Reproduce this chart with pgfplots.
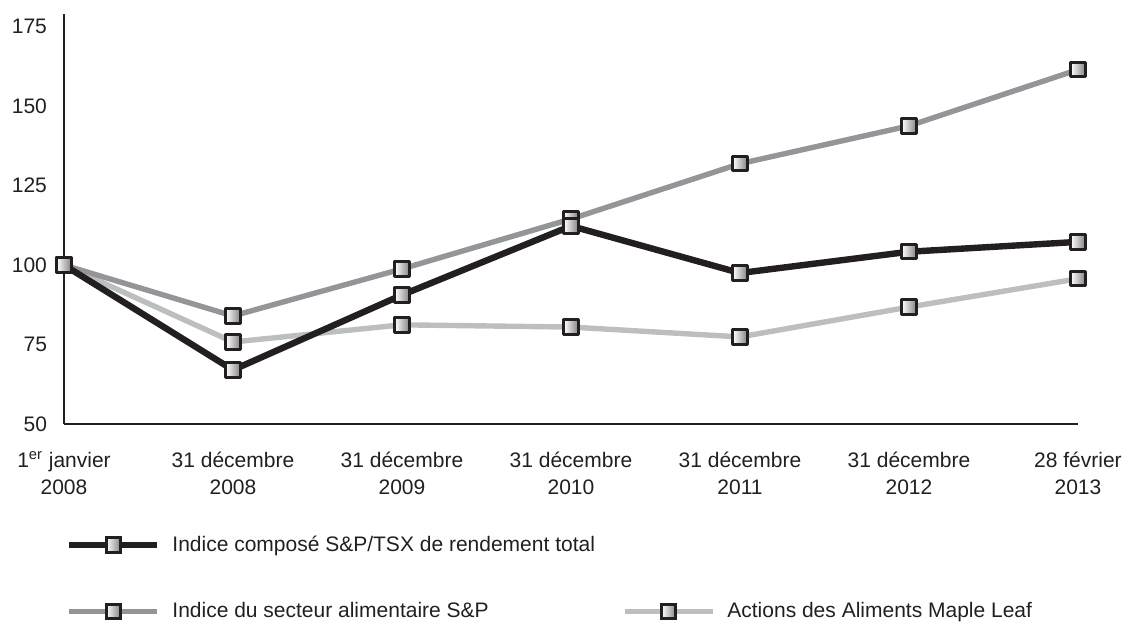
\documentclass[border=0pt]{standalone}
\usepackage{fontspec}
\setmainfont{Liberation Sans}
\usepackage{pgfplots}
\pgfplotsset{compat=1.18}
\definecolor{tsx}{HTML}{231F20}
\definecolor{food}{HTML}{939598}
\definecolor{maple}{HTML}{BCBEC0}
\pgfdeclarehorizontalshading{markshade}{100bp}{color(0bp)=(black!35); color(25bp)=(white); color(100bp)=(black!72)}
\pgfdeclareplotmark{gsq}{%
  \pgfpathrectangle{\pgfqpoint{-\pgfplotmarksize}{-\pgfplotmarksize}}{\pgfqpoint{2\pgfplotmarksize}{2\pgfplotmarksize}}%
  \pgfshadepath{markshade}{0}%
  \pgfusepathqstroke}
\pgfplotsset{
  mymark/.style={mark=gsq, mark size=3.6pt, mark options={solid, draw=tsx, line width=1.5pt}},
}
\begin{document}
\begin{tikzpicture}
\useasboundingbox (0,0) rectangle (562pt,311pt);
\begin{axis}[
  at={(32pt,99pt)}, anchor=south west,
  scale only axis, width=507pt, height=205pt,
  xmin=0, xmax=6, ymin=50, ymax=179,
  axis x line*=bottom, axis y line*=left,
  axis line style={line width=0.8pt, draw=tsx},
  major tick length=0pt,
  clip=false,
  xtick={0,...,6},
  xticklabels={{1\textsuperscript{er} janvier\\2008},{31 décembre\\2008},{31 décembre\\2009},{31 décembre\\2010},{31 décembre\\2011},{31 décembre\\2012},{28 février\\2013}},
  ytick={50,75,100,125,150,175},
  tick label style={font=\fontsize{10.5}{13.5}\selectfont, text=tsx},
  /pgf/number format/assume math mode=true,
  xticklabel style={align=center, yshift=-10.5pt},
  yticklabel style={xshift=-5pt},
  legend columns=2,
  legend cell align=left,
  legend image code/.code={\draw[mark repeat=2,mark phase=2,#1] plot coordinates {(0pt,0pt)(22pt,0pt)(44pt,0pt)};},
  legend style={at={(0.002,-0.273)}, anchor=north west, draw=none, fill=none,
    inner sep=0pt, outer sep=0pt, row sep=24pt,
    font=\fontsize{10.5}{13.5}\selectfont, text=tsx,
    nodes={inner sep=0pt},
    /tikz/every odd column/.append style={column sep=6pt},
    /tikz/every even column/.append style={column sep=13.5pt}},
]
\addplot[maple, line width=2.7pt, line join=round, mymark, forget plot] coordinates {(0,100)(1,75.8)(2,81.2)(3,80.5)(4,77.4)(5,86.8)(6,95.7)};
\addplot[food, line width=2.7pt, line join=round, mymark, forget plot] coordinates {(0,100)(1,84.0)(2,98.8)(3,114.5)(4,131.9)(5,143.8)(6,161.5)};
\addplot[tsx, line width=3.2pt, line join=round, mymark, forget plot] coordinates {(0,100)(1,67.0)(2,90.6)(3,112.3)(4,97.5)(5,104.2)(6,107.3)};
\addlegendimage{tsx, line width=3.2pt, mymark}
\addlegendentry{Indice composé S\&P/TSX de rendement total}
\addlegendimage{empty legend}
\addlegendentry{}
\addlegendimage{food, line width=2.7pt, mymark}
\addlegendentry{Indice du secteur alimentaire S\&P}
\addlegendimage{maple, line width=2.7pt, mymark}
\addlegendentry{Actions des Aliments Maple Leaf}
\end{axis}
\end{tikzpicture}
\end{document}
